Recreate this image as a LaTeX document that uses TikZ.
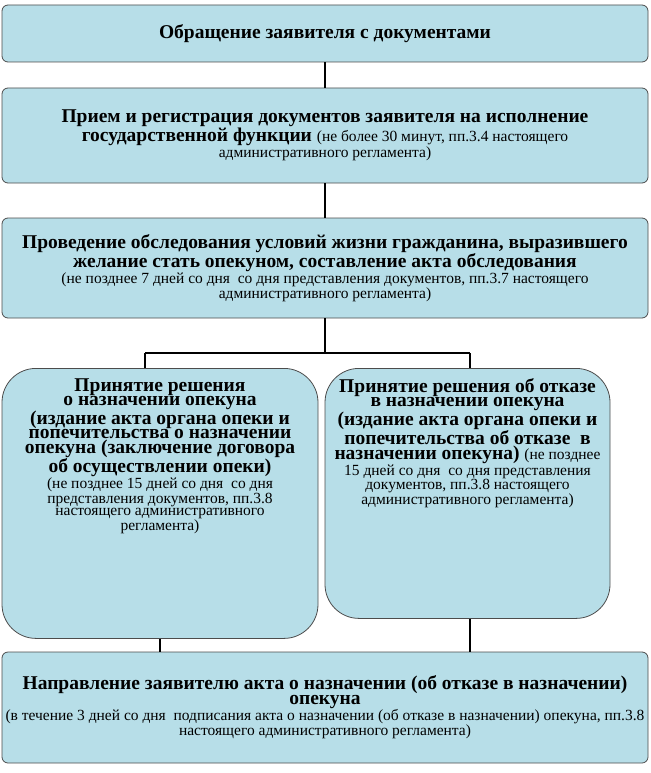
\documentclass[tikz,border=0pt]{standalone}
\usepackage{fontspec}
\setmainfont{Liberation Serif}
\begin{document}
\begin{tikzpicture}[x=1pt,y=-1pt,
 box/.style={draw=black!70,line width=0.8pt,fill=boxfill,rounded corners=6pt,align=center,inner sep=2pt},
 big/.style={draw=black!70,line width=0.8pt,fill=boxfill,rounded corners=34pt,align=center,inner sep=2pt},
 conn/.style={line width=2.2pt,black}]
\newcommand\myb{\bfseries\fontsize{19.5}{22.5}\selectfont}
\newcommand\mys{\normalfont\fontsize{15.5}{18}\selectfont}
\definecolor{boxfill}{HTML}{B7DEE8}
\useasboundingbox (0,0) rectangle (650,773);
\node[box,minimum width=646,minimum height=57] (a) at (325,33.5) {\myb Обращение заявителя с документами};
\node[box,minimum width=646,minimum height=95] (b) at (325,135.5)
 {\myb Прием и регистрация документов заявителя на исполнение\\ \myb государственной функции {\mys (не более 30 минут, пп.3.4 настоящего}\\ \mys административного регламента)};
\node[box,minimum width=646,minimum height=100] (c) at (325,268)
 {\myb Проведение обследования условий жизни гражданина, выразившего\\ \myb желание стать опекуном, составление акта обследования\\ \mys (не позднее 7 дней со дня\ \ со дня представления документов, пп.3.7 настоящего\\ \mys административного регламента)};
\node[big,minimum width=316,minimum height=270,anchor=north] (l) at (160,368) {};
\node[align=center,anchor=north] (lt) at (160,375)
 {\myb Принятие решения\\ \myb о назначении опекуна\\ \myb (издание акта органа опеки и\\ \myb попечительства о назначении\\ \myb опекуна (заключение договора\\ \myb об осуществлении опеки)\\
 \mys (не позднее 15 дней со дня\ \ со дня\\ \mys представления документов, пп.3.8\\ \mys настоящего административного\\ \mys регламента)};
\node[big,minimum width=285,minimum height=250,anchor=north] (r) at (467.5,368) {};
\node[align=center,anchor=north] (rt) at (467.5,375)
 {\myb Принятие решения об отказе\\ \myb в назначении опекуна\\ \myb (издание акта органа опеки и\\ \myb попечительства об отказе\ \ в\\ \myb назначении опекуна) {\mys (не позднее}\\
 \mys 15 дней со дня\ \ со дня представления\\ \mys документов, пп.3.8 настоящего\\ \mys административного регламента)};
\node[box,minimum width=646,minimum height=111] (d) at (325,707.5)
 {\myb Направление заявителю акта о назначении (об отказе в назначении)\\ \myb опекуна\\ \mys (в течение 3 дней со дня\ \ подписания акта о назначении (об отказе в назначении) опекуна, пп.3.8\\ \mys настоящего административного регламента)};
\coordinate (j) at (325,353);
\coordinate (jl) at (145,353);
\coordinate (jr) at (470,353);
\draw[conn] (a.south) -- (b.north);
\draw[conn] (b.south) -- (c.north);
\draw[conn] (c.south) -- (j);
\draw[conn] (jl) -- (jr);
\draw[conn] (jl) -- (jl |- l.north);
\draw[conn] (jr) -- (jr |- r.north);
\draw[conn] (l.south) -- (l.south |- d.north);
\draw[conn] (r.south -| jr) -- (jr |- d.north);
\end{tikzpicture}
\end{document}
